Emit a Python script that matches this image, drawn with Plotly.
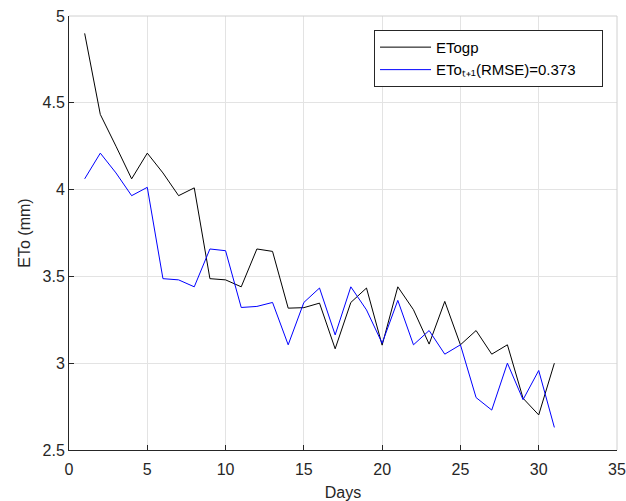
import plotly.graph_objects as go

days = list(range(1, 32))
eto_gp = [4.90, 4.433, 4.25, 4.062, 4.21, 4.096, 3.965, 4.01, 3.487, 3.48, 3.44,
          3.658, 3.644, 3.317, 3.32, 3.346, 3.083, 3.35, 3.433, 3.104, 3.44, 3.308,
          3.11, 3.356, 3.106, 3.188, 3.052, 3.106, 2.798, 2.702, 3.0]
eto_t1 = [4.062, 4.21, 4.096, 3.965, 4.013, 3.487, 3.48, 3.44, 3.658, 3.648, 3.321,
          3.327, 3.35, 3.106, 3.35, 3.433, 3.163, 3.44, 3.307, 3.115, 3.362, 3.106,
          3.188, 3.052, 3.106, 2.802, 2.73, 3.0, 2.79, 2.958, 2.63]
x_ticks = [0, 5, 10, 15, 20, 25, 30, 35]
y_ticks = [2.5, 3, 3.5, 4, 4.5, 5]
y_tick_labels = ["2.5", "3", "3.5", "4", "4.5", "5"]
series_names = ["ETogp", "ETo\u209c\u208a\u2081(RMSE)=0.373\u00a0\u00a0\u00a0\u00a0\u00a0"]

font = "Liberation Sans, Arial, sans-serif"
axis_col = "#262626"
grid_col = "#e3e3e3"

fig = go.Figure()
fig.add_trace(go.Scatter(x=days, y=eto_gp, mode="lines", name=series_names[0],
                         line=dict(color="black", width=1)))
fig.add_trace(go.Scatter(x=days, y=eto_t1, mode="lines", name=series_names[1],
                         line=dict(color="#0000ff", width=1)))

fig.update_layout(
    width=626, height=501,
    margin=dict(l=69, r=9, t=16, b=51, autoexpand=False),
    paper_bgcolor="white", plot_bgcolor="white",
    font=dict(family=font, size=16, color=axis_col),
    showlegend=True,
    legend=dict(x=0.9745, y=0.968, xanchor="right", yanchor="top",
                bordercolor=axis_col, borderwidth=1, bgcolor="white",
                font=dict(size=15, color="black"), itemwidth=51,
                tracegroupgap=0),
    xaxis=dict(range=[0, 35], tickvals=x_ticks, showgrid=True, gridcolor=grid_col,
               showline=True, linecolor=axis_col, linewidth=1, ticks="inside",
               ticklen=5, tickcolor=axis_col, zeroline=False, automargin=False,
               ticklabelstandoff=5, ticklabeloverflow="allow",
               title=dict(text="Days", standoff=14, font=dict(size=16)),
               tickfont=dict(size=16)),
    yaxis=dict(range=[2.5, 5], tickvals=y_ticks, ticktext=y_tick_labels,
               showgrid=True, gridcolor=grid_col,
               showline=True, linecolor=axis_col, linewidth=1, ticks="inside",
               ticklen=5, tickcolor=axis_col, zeroline=False, automargin=False,
               ticklabeloverflow="allow",
               title=dict(text="ETo (mm)", standoff=7, font=dict(size=16)),
               tickfont=dict(size=16)),
)
fig.add_shape(type="line", xref="paper", yref="paper", x0=0, x1=1, y0=1, y1=1,
              line=dict(color="#d0d0d0", width=1))
fig.add_shape(type="line", xref="paper", yref="paper", x0=1, x1=1, y0=0, y1=1,
              line=dict(color="#d0d0d0", width=1))

fig.write_html(
    "out.html",
    config={"displayModeBar": False},
    post_script="document.body.style.margin='0px';"
                "document.documentElement.style.overflow='hidden';",
)
